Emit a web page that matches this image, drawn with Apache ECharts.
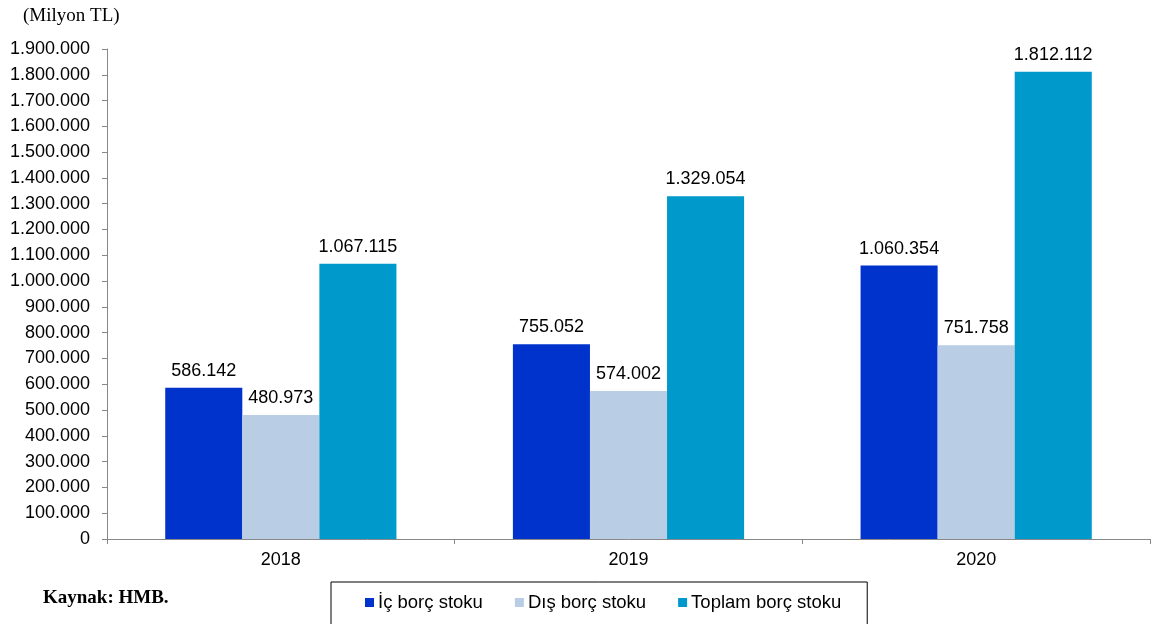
<!DOCTYPE html>
<html>
<head>
<meta charset="utf-8">
<script src="https://cdn.jsdelivr.net/npm/echarts@6/dist/echarts.min.js"></script>
<style>
html,body{margin:0;padding:0;background:#fff;}
#chart{width:1152px;height:624px;position:relative;}
</style>
</head>
<body>
<div id="chart"></div>
<script>
const years = ['2018', '2019', '2020'];
const seriesNames = ['İç borç stoku', 'Dış borç stoku', 'Toplam borç stoku'];
const icBorc = [586142, 755052, 1060354];
const disBorc = [480973, 574002, 751758];
const toplamBorc = [1067115, 1329054, 1812112];
const colors = ['#0033CC', '#B9CDE5', '#0099CC'];

function fmt(v) {
  return String(Math.round(v)).replace(/\B(?=(\d{3})+(?!\d))/g, '.');
}

const chart = echarts.init(document.getElementById('chart'), null, {renderer: 'canvas'});
const font = 'Liberation Sans, Arial, sans-serif';
const mk = (name, data, color) => ({
  name: name,
  type: 'bar',
  data: data,
  barGap: '0%',
  barCategoryGap: '33.5%',
  itemStyle: {color: color},
  label: {
    show: true, position: 'top', distance: 8,
    fontFamily: font, fontSize: 18, color: '#000',
    formatter: p => fmt(p.value)
  }
});
chart.setOption({
  animation: false,
  backgroundColor: '#fff',
  graphic: [
    {type: 'text', left: 23, top: 7, style: {text: '(Milyon TL)', font: '19px "Liberation Serif", "Times New Roman", serif', fill: '#000'}},
    {type: 'text', left: 43, top: 589, style: {text: 'Kaynak: HMB.', font: 'bold 19px "Liberation Serif", "Times New Roman", serif', fill: '#000'}}
  ],
  legend: {
    left: 331, top: 582,
    padding: [11, 26, 22, 34],
    itemGap: 32,
    itemWidth: 9, itemHeight: 9,
    borderColor: '#000', borderWidth: 1,
    icon: 'rect',
    textStyle: {fontFamily: font, fontSize: 18.5, color: '#000', padding: [0, 0, 0, -1]},
    data: seriesNames
  },
  grid: {left: 107, right: 2, top: 49, bottom: 85, containLabel: false},
  xAxis: {
    type: 'category',
    data: years,
    axisLine: {lineStyle: {color: '#888', width: 1}},
    axisTick: {show: true, length: 5, lineStyle: {color: '#888'}},
    axisLabel: {fontFamily: font, fontSize: 18, color: '#000', margin: 12}
  },
  yAxis: {
    type: 'value',
    min: 0, max: 1900000, interval: 100000,
    splitLine: {show: false},
    axisLine: {show: true, lineStyle: {color: '#888', width: 1}},
    axisTick: {show: true, length: 5, lineStyle: {color: '#888'}},
    axisLabel: {fontFamily: font, fontSize: 18, color: '#000', margin: 17, formatter: v => fmt(v)}
  },
  series: [
    mk(seriesNames[0], icBorc, colors[0]),
    mk(seriesNames[1], disBorc, colors[1]),
    mk(seriesNames[2], toplamBorc, colors[2])
  ]
});
</script>
</body>
</html>
